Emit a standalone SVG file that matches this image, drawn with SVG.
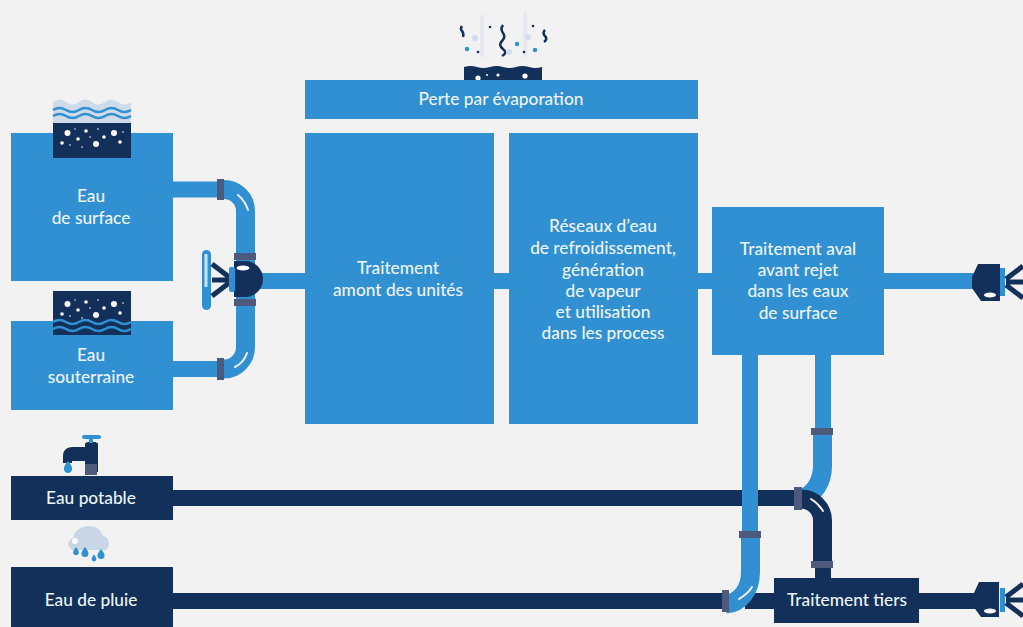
<svg xmlns="http://www.w3.org/2000/svg" width="1023" height="627" viewBox="0 0 1023 627">
<style>
.b{fill:#3090d2}.n{fill:#12305a}.f{fill:#4d5a7c}.w{fill:#fff}
.t{font-family:"Lato","Liberation Sans",sans-serif;font-size:17.300px;font-weight:500;fill:#eef5fb;text-anchor:middle}
.pb{fill:none;stroke:#3090d2;stroke-width:16}
.pbw{fill:none;stroke:#3090d2;stroke-width:19}
.pn{fill:none;stroke:#12305a;stroke-width:16}
.pnw{fill:none;stroke:#12305a;stroke-width:19}
.gl{fill:none;stroke:#f2f2f2;stroke-width:2;stroke-linecap:round}
.wv{fill:none;stroke:#3090d2;stroke-width:2.500}
.sp{fill:none;stroke:#12305a;stroke-width:5}
</style>
<defs>
<g id="dots">
<circle cx="14.500" cy="10" r="3" class="w"/><circle cx="33" cy="8" r="1.800" class="w"/><circle cx="61" cy="10" r="3" class="w"/><circle cx="25" cy="16" r="1.800" class="w"/><circle cx="51" cy="14" r="1.800" class="w"/><circle cx="43" cy="21" r="3" class="w"/><circle cx="9" cy="20" r="1.800" class="w"/><circle cx="67" cy="19" r="1.800" class="w"/><circle cx="22" cy="6" r=".7" class="w"/><circle cx="45" cy="6" r=".8" class="w"/><circle cx="37" cy="14" r=".8" class="w"/><circle cx="29" cy="24" r=".8" class="w"/><circle cx="17" cy="22" r=".8" class="w"/><circle cx="70" cy="9" r=".8" class="w"/>
</g>
<g id="spokes"><path class="sp" d="M0 -16L17 -3M0 16L17 3M0 0H17"/></g>
<path id="drop" d="M0 -5q-3.500 4-3.500 6.500a3.500 3.500 0 0 0 7 0q0-2.500-3.500-6.500Z" class="b"/>
</defs>
<rect width="1023" height="627" fill="#f2f2f2"/>
<g id="connectors">
<path class="pb" d="M173 189.500H222M173 369H222"/>
<path class="pbw" d="M222 189.500H224A21.500 21.500 0 0 1 245.500 211V347A21.500 22 0 0 1 224 369H222"/>
<path class="pb" d="M250 281H305M494 281H509M698 281H712M884 281H980"/>
<path class="pn" d="M173 498H742M758 498H800M173 601H726M745 601H980"/>
<path class="pb" d="M823 355V432"/>
<path class="pbw" d="M822.500 432V466C822.500 482 814 494 802 499"/>
<path class="pb" d="M750 355V535"/>
<path class="pbw" d="M750.500 535V572C750.500 590 740 603 726 604"/>
<path class="pnw" d="M800 499H801A21.500 21.500 0 0 1 822.500 520.500V565"/>
<path class="pn" d="M823 565V580"/>
<path class="gl" d="M811 499C816 502 820 506 823 511"/>
<path class="gl" d="M739 599C744 596 749 592 752 587"/>
<path class="gl" d="M238 195C243 199 246 204 248 210"/>
<path class="gl" d="M235 367C241 364 245 359 247 353"/>
<rect class="f" x="217" y="179" width="7" height="21"/>
<rect class="f" x="217" y="358" width="7" height="22"/>
<rect class="f" x="234" y="253" width="22" height="7"/>
<rect class="f" x="234" y="299" width="22" height="7"/>
<rect class="f" x="794" y="487" width="8" height="23"/>
<rect class="f" x="811" y="428" width="22" height="7"/>
<rect class="f" x="811" y="561" width="22" height="7"/>
<rect class="f" x="739" y="531" width="22" height="7"/>
<rect class="f" x="722" y="590" width="7" height="22"/>
</g>
<g id="valve">
<rect class="b" x="202" y="250" width="9" height="60" rx="4.500"/>
<rect x="204.500" y="254" width="3" height="33" fill="#cfe4f4"/>
<use href="#spokes" transform="translate(212 280)"/>
<path class="n" d="M234 261H245A18 18 0 0 1 245 297H234Z"/>
<rect class="b" x="229" y="267" width="6" height="25" rx="2"/>
<ellipse cx="243" cy="268" rx="6.500" ry="2.500" class="w"/>
</g>
<g id="surface">
<rect class="b" x="11" y="133" width="162" height="148"/>
<path d="M53 102q6.500-5 13 0t13 0 13 0 13 0 13 0 13 0V124H53Z" fill="#cfdbe9"/>
<path class="wv" d="M53 110q6.500-4 13 0t13 0 13 0 13 0 13 0 13 0M53 116q6.500-4 13 0t13 0 13 0 13 0 13 0 13 0"/>
<rect class="n" x="53" y="123" width="78" height="35"/>
<use href="#dots" transform="translate(53 123)"/>
<text class="t" x="91" y="202">Eau</text><text class="t" x="91" y="224">de surface</text>
</g>
<g id="souterraine">
<rect class="b" x="11" y="321" width="162" height="89"/>
<path class="n" d="M53 291H131V335H53Z"/>
<use href="#dots" transform="translate(53 294)"/>
<path class="wv" d="M53 322q6.500-4 13 0t13 0 13 0 13 0 13 0 13 0M53 329q6.500-4 13 0t13 0 13 0 13 0 13 0 13 0"/>
<text class="t" x="91" y="361">Eau</text><text class="t" x="91" y="383">souterraine</text>
</g>
<g id="evaporation">
<rect x="480" y="15" width="4" height="42" fill="#e6e9f0"/><rect x="523" y="12" width="4" height="45" fill="#e6e9f0"/>
<path class="n" d="M464 67q6.500-2 13 0t13 0 13 0 13 0 13 0 13 0V81H464Z"/>
<circle class="w" cx="478" cy="78" r="2.600"/><circle class="w" cx="498" cy="75" r="1.600"/><circle class="w" cx="525" cy="76" r="2.600"/><circle class="w" cx="487" cy="75" r="1"/>
<path d="M462 26q-2 3 0 5t1 6M503 25q-3 4 0 8t-1 8 1 8-1 7M545 30q-3 3 0 6t-1 6" fill="none" stroke="#12305a" stroke-width="2.500"/>
<circle cx="467" cy="49" r="2.200" class="b"/><circle cx="517" cy="44" r="2.200" class="b"/><circle cx="535" cy="50" r="2.200" class="b"/><circle cx="478" cy="52" r="1.300" class="n"/><circle cx="524" cy="52" r="1.300" class="n"/><circle cx="490" cy="27" r="1.300" class="n"/><circle cx="533" cy="26" r="1.300" class="n"/>
<circle cx="509" cy="52" r="3" fill="#d0ddec"/><circle cx="475" cy="38" r="3" fill="#d0ddec"/><circle cx="528" cy="37" r="3" fill="#d0ddec"/>
<rect class="b" x="305" y="80" width="393" height="39"/>
<text class="t" x="501" y="105">Perte par évaporation</text>
</g>
<g id="amont">
<rect class="b" x="305" y="133" width="189" height="291"/>
<text class="t" x="398" y="274">Traitement</text><text class="t" x="398" y="296">amont des unités</text>
</g>
<g id="reseaux">
<rect class="b" x="509" y="133" width="189" height="291"/>
<text class="t" x="603" y="232">Réseaux d’eau</text><text class="t" x="603" y="254">de refroidissement,</text><text class="t" x="603" y="276">génération</text><text class="t" x="603" y="297">de vapeur</text><text class="t" x="603" y="318">et utilisation</text><text class="t" x="603" y="339">dans les process</text>
</g>
<g id="aval">
<rect class="b" x="712" y="207" width="172" height="148"/>
<text class="t" x="798" y="255">Traitement aval</text><text class="t" x="798" y="276">avant rejet</text><text class="t" x="798" y="297">dans les eaux</text><text class="t" x="798" y="319">de surface</text>
</g>
<g id="potable">
<path class="n" d="M63 456c0-6 4-9 10-9H85V444C85 441 98 441 98 444V472H85V461H72V463H63Z"/>
<rect class="f" x="85" y="464" width="12" height="11"/>
<rect class="b" x="89" y="436" width="4" height="7"/><rect class="b" x="82" y="435" width="19" height="4" rx="2"/>
<use href="#drop" transform="translate(68 467) scale(1.200)"/>
<rect class="n" x="11" y="476" width="162" height="44"/>
<text class="t" x="91" y="504">Eau potable</text>
</g>
<g id="pluie">
<path d="M76 550a6 6 0 0 1-3-12c1-7 8-12 16-12 7 0 12 4 14 10a8 8 0 0 1 3 14Z" fill="#c9d6e6"/>
<circle cx="75" cy="541" r="3" class="w"/>
<use href="#drop" transform="translate(76 551)  scale(.8)"/><use href="#drop" transform="translate(85 552)"/><use href="#drop" transform="translate(94 558) scale(.7)"/><use href="#drop" transform="translate(101 554)"/>
<rect class="n" x="11" y="567" width="162" height="60"/>
<text class="t" x="91" y="606">Eau de pluie</text>
</g>
<g id="tiers">
<rect class="n" x="774" y="578" width="145" height="45"/>
<text class="t" x="847" y="606">Traitement tiers</text>
</g>
<g id="sortie-haut">
<path class="n" d="M978 264H1000V301H981L972 288V277Z"/>
<ellipse class="w" cx="990" cy="295" rx="6" ry="2.500"/>
<rect class="b" x="1000" y="268" width="5" height="28"/>
<use href="#spokes" transform="translate(1023 282) scale(-1 1)"/>
</g>
<g id="sortie-bas">
<path class="n" d="M979 582H999V617H981L973 606V595Z"/>
<ellipse class="w" cx="990" cy="611" rx="6" ry="2.500"/>
<rect class="b" x="1000" y="588" width="5" height="24"/>
<use href="#spokes" transform="translate(1023 600) scale(-1 1)"/>
</g>
</svg>
